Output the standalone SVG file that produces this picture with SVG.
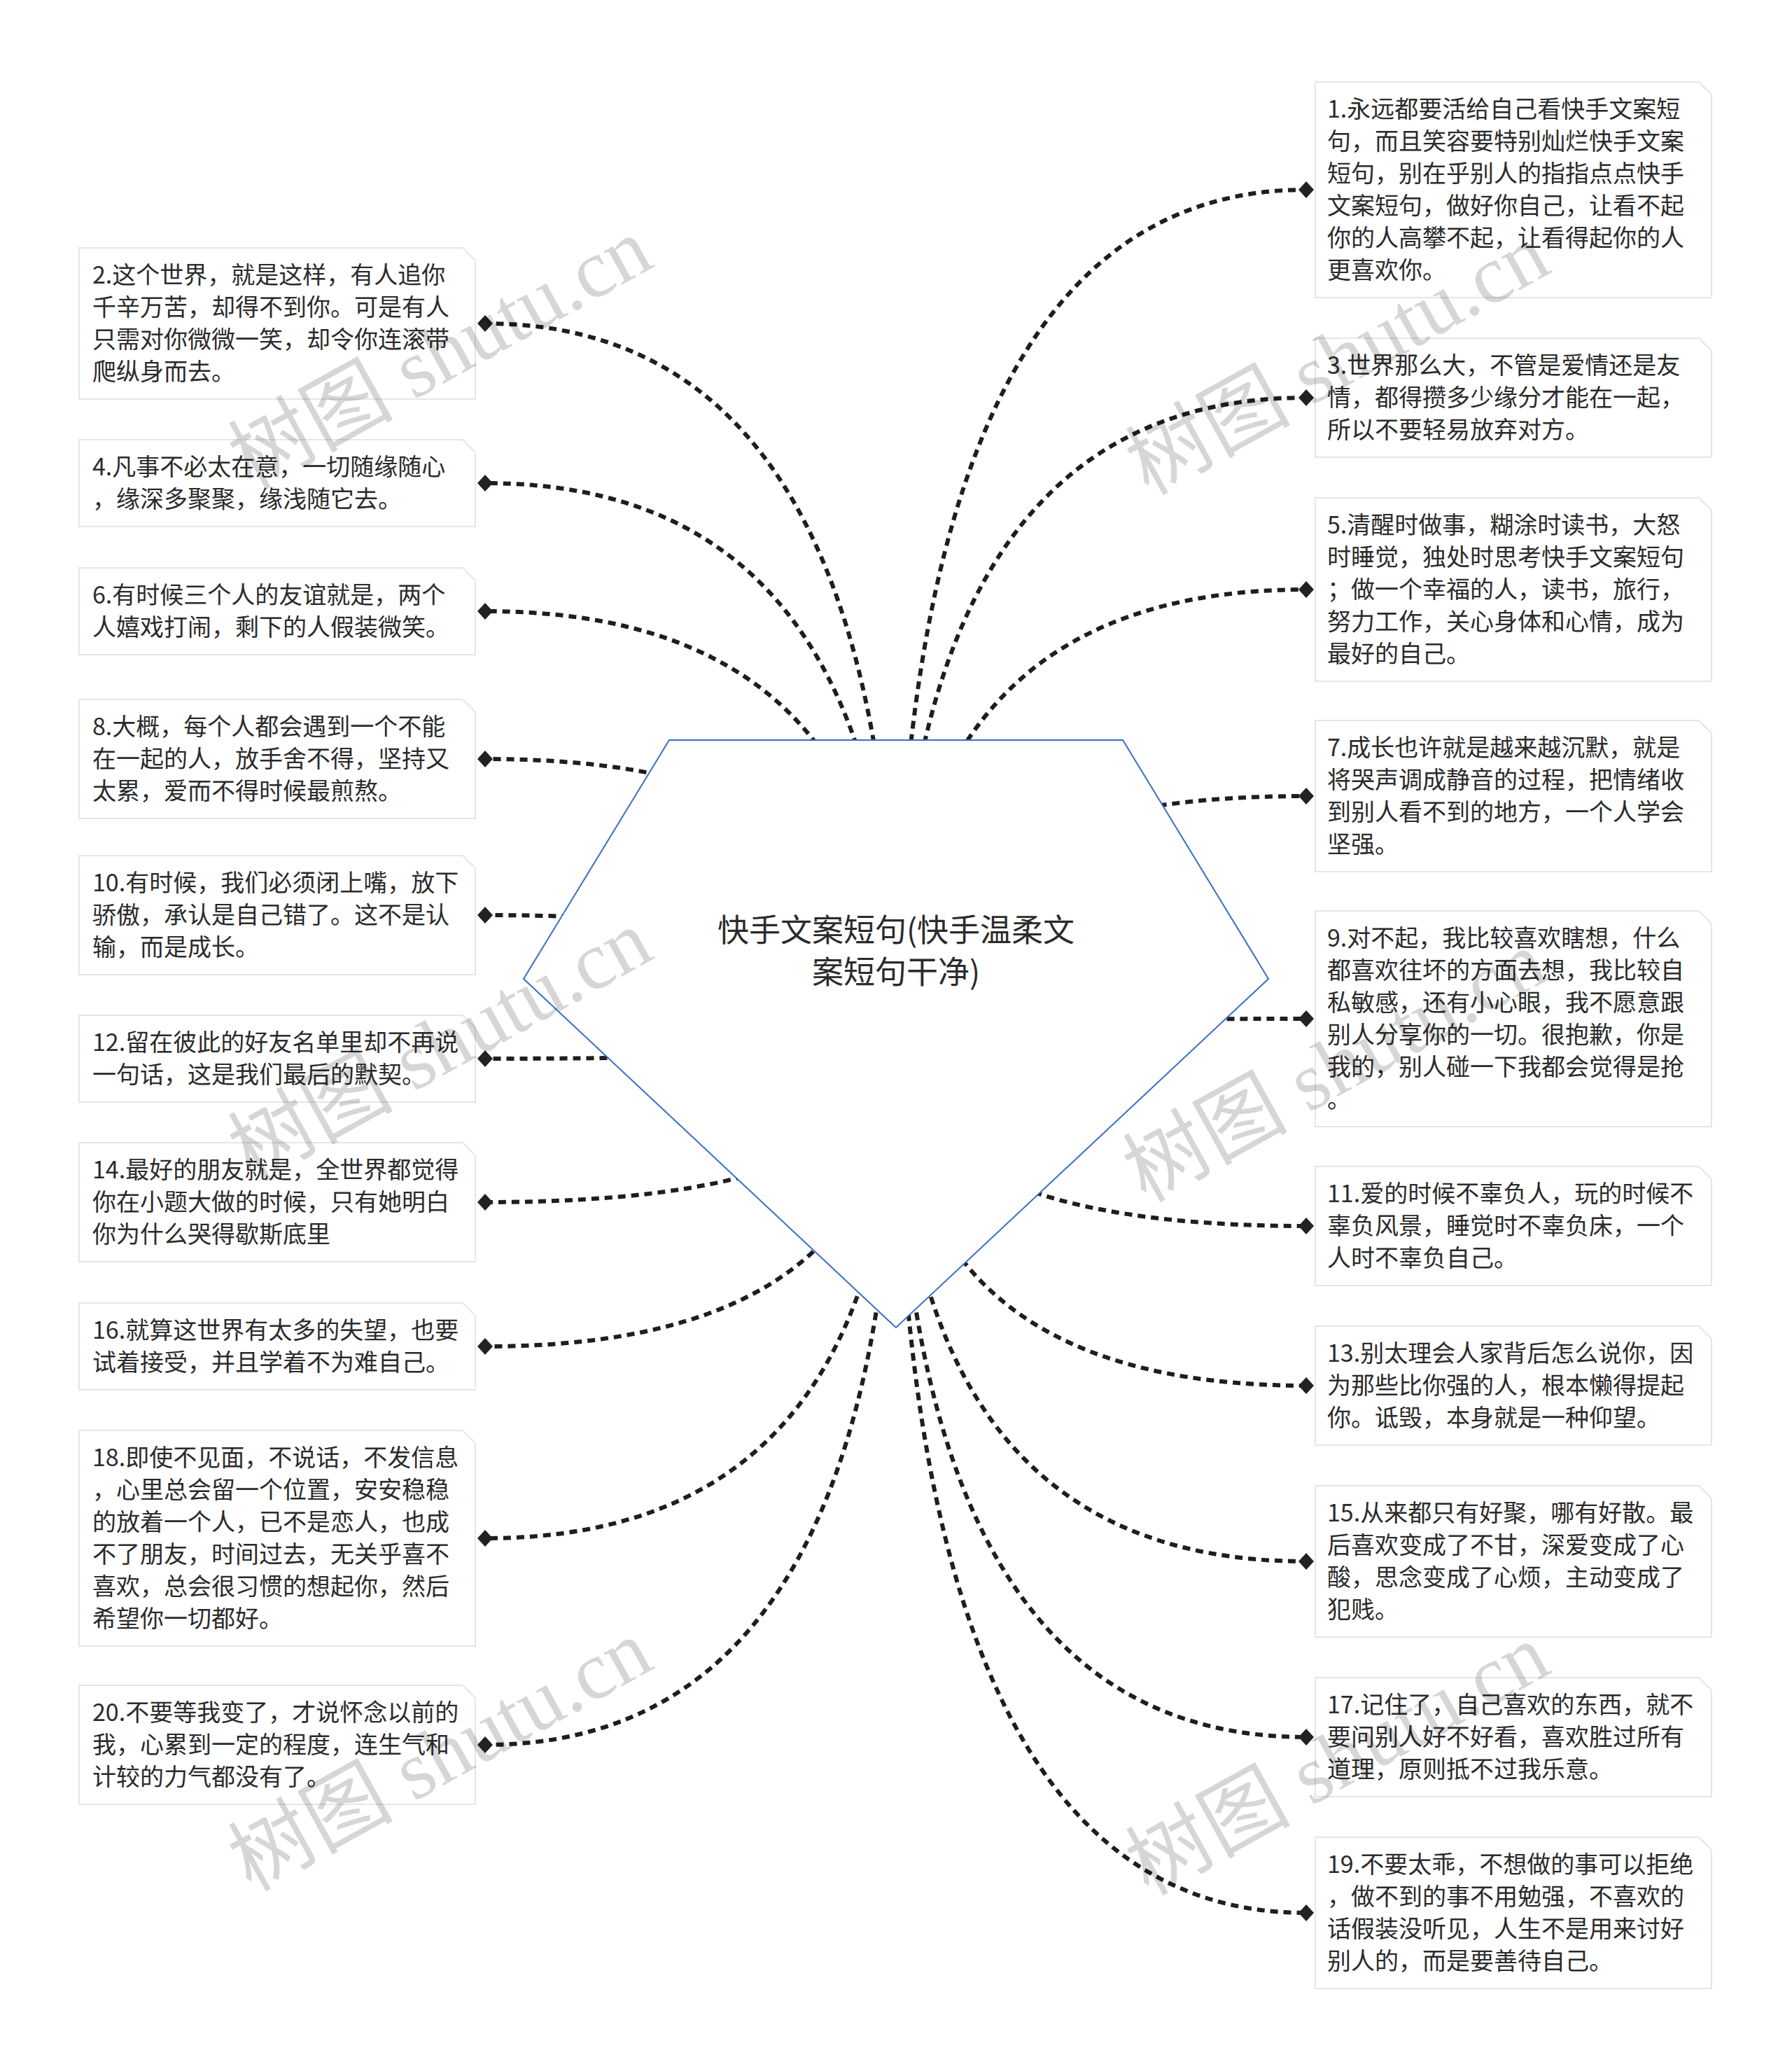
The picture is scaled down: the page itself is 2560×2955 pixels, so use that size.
<svg xmlns="http://www.w3.org/2000/svg" width="2560" height="2955" viewBox="0 0 2560 2955">
<style>
.bg{fill:#ffffff}
.box{fill:#ffffff;stroke:#e4e6e8;stroke-width:2}
.t{font-family:"Noto Sans CJK SC","Noto Sans",sans-serif;font-size:34px;fill:#2b2b2b}
.ct{font-family:"Noto Sans CJK SC","Noto Sans",sans-serif;font-size:45px;fill:#2b2b2b;text-anchor:middle}
.c{fill:none;stroke:#1e1e1e;stroke-width:6;stroke-dasharray:11 8;marker-end:url(#dm)}
.pent{fill:#ffffff;stroke:#3a6fc0;stroke-width:2}
.wm{font-family:"Liberation Serif","Noto Sans CJK SC",serif;font-size:118px;fill:#000000;fill-opacity:0.16}
</style>
<defs>
<marker id="dm" markerUnits="userSpaceOnUse" markerWidth="24" markerHeight="26" refX="12" refY="13" orient="auto">
<path d="M1 13L12 1L23 13L12 25Z" fill="#222222"/>
</marker>
</defs>
<rect class="bg" x="0" y="0" width="2560" height="2955"/>
<g id="connectors">
<path class="c" d="M1280 1477Q1280 462 693 462"/>
<path class="c" d="M1280 1477Q1280 690 693 690"/>
<path class="c" d="M1280 1477Q1280 873 693 873"/>
<path class="c" d="M1280 1477Q1280 1084 693 1084"/>
<path class="c" d="M1280 1477Q1280 1307 693 1307"/>
<path class="c" d="M1280 1477Q1280 1512 693 1512"/>
<path class="c" d="M1280 1477Q1280 1717 693 1717"/>
<path class="c" d="M1280 1477Q1280 1923 693 1923"/>
<path class="c" d="M1280 1477Q1280 2197 693 2197"/>
<path class="c" d="M1280 1477Q1280 2492 693 2492"/>
<path class="c" d="M1280 1477Q1280 271 1866 271"/>
<path class="c" d="M1280 1477Q1280 568 1866 568"/>
<path class="c" d="M1280 1477Q1280 842 1866 842"/>
<path class="c" d="M1280 1477Q1280 1137 1866 1137"/>
<path class="c" d="M1280 1477Q1280 1455 1866 1455"/>
<path class="c" d="M1280 1477Q1280 1751 1866 1751"/>
<path class="c" d="M1280 1477Q1280 1979 1866 1979"/>
<path class="c" d="M1280 1477Q1280 2230 1866 2230"/>
<path class="c" d="M1280 1477Q1280 2481 1866 2481"/>
<path class="c" d="M1280 1477Q1280 2732 1866 2732"/>
</g>
<g id="center">
<polygon class="pent" points="956,1057 1604,1057 1812,1398 1280,1896 748,1398"/>
<text class="ct" x="1280" y="1345">快手文案短句(快手温柔文</text>
<text class="ct" x="1280" y="1405">案短句干净)</text>
</g>
<g id="n1"><path class="box" d="M1879 117H2427L2445 135V425H1879Z"/>
<text class="t" x="1896" y="168"><tspan x="1896">1.永远都要活给自己看快手文案短</tspan><tspan x="1896" dy="46">句，而且笑容要特别灿烂快手文案</tspan><tspan x="1896" dy="46">短句，别在乎别人的指指点点快手</tspan><tspan x="1896" dy="46">文案短句，做好你自己，让看不起</tspan><tspan x="1896" dy="46">你的人高攀不起，让看得起你的人</tspan><tspan x="1896" dy="46">更喜欢你。</tspan></text></g>
<g id="n2"><path class="box" d="M113 354H661L679 372V570H113Z"/>
<text class="t" x="132" y="405"><tspan x="132">2.这个世界，就是这样，有人追你</tspan><tspan x="132" dy="46">千辛万苦，却得不到你。可是有人</tspan><tspan x="132" dy="46">只需对你微微一笑，却令你连滚带</tspan><tspan x="132" dy="46">爬纵身而去。</tspan></text></g>
<g id="n3"><path class="box" d="M1879 483H2427L2445 501V653H1879Z"/>
<text class="t" x="1896" y="534"><tspan x="1896">3.世界那么大，不管是爱情还是友</tspan><tspan x="1896" dy="46">情，都得攒多少缘分才能在一起，</tspan><tspan x="1896" dy="46">所以不要轻易放弃对方。</tspan></text></g>
<g id="n4"><path class="box" d="M113 628H661L679 646V752H113Z"/>
<text class="t" x="132" y="679"><tspan x="132">4.凡事不必太在意，一切随缘随心</tspan><tspan x="132" dy="46">，缘深多聚聚，缘浅随它去。</tspan></text></g>
<g id="n5"><path class="box" d="M1879 711H2427L2445 729V973H1879Z"/>
<text class="t" x="1896" y="762"><tspan x="1896">5.清醒时做事，糊涂时读书，大怒</tspan><tspan x="1896" dy="46">时睡觉，独处时思考快手文案短句</tspan><tspan x="1896" dy="46">；做一个幸福的人，读书，旅行，</tspan><tspan x="1896" dy="46">努力工作，关心身体和心情，成为</tspan><tspan x="1896" dy="46">最好的自己。</tspan></text></g>
<g id="n6"><path class="box" d="M113 811H661L679 829V935H113Z"/>
<text class="t" x="132" y="862"><tspan x="132">6.有时候三个人的友谊就是，两个</tspan><tspan x="132" dy="46">人嬉戏打闹，剩下的人假装微笑。</tspan></text></g>
<g id="n7"><path class="box" d="M1879 1029H2427L2445 1047V1245H1879Z"/>
<text class="t" x="1896" y="1080"><tspan x="1896">7.成长也许就是越来越沉默，就是</tspan><tspan x="1896" dy="46">将哭声调成静音的过程，把情绪收</tspan><tspan x="1896" dy="46">到别人看不到的地方，一个人学会</tspan><tspan x="1896" dy="46">坚强。</tspan></text></g>
<g id="n8"><path class="box" d="M113 999H661L679 1017V1169H113Z"/>
<text class="t" x="132" y="1050"><tspan x="132">8.大概，每个人都会遇到一个不能</tspan><tspan x="132" dy="46">在一起的人，放手舍不得，坚持又</tspan><tspan x="132" dy="46">太累，爱而不得时候最煎熬。</tspan></text></g>
<g id="n9"><path class="box" d="M1879 1301H2427L2445 1319V1609H1879Z"/>
<text class="t" x="1896" y="1352"><tspan x="1896">9.对不起，我比较喜欢瞎想，什么</tspan><tspan x="1896" dy="46">都喜欢往坏的方面去想，我比较自</tspan><tspan x="1896" dy="46">私敏感，还有小心眼，我不愿意跟</tspan><tspan x="1896" dy="46">别人分享你的一切。很抱歉，你是</tspan><tspan x="1896" dy="46">我的，别人碰一下我都会觉得是抢</tspan><tspan x="1896" dy="46">。</tspan></text></g>
<g id="n10"><path class="box" d="M113 1222H661L679 1240V1392H113Z"/>
<text class="t" x="132" y="1273"><tspan x="132">10.有时候，我们必须闭上嘴，放下</tspan><tspan x="132" dy="46">骄傲，承认是自己错了。这不是认</tspan><tspan x="132" dy="46">输，而是成长。</tspan></text></g>
<g id="n11"><path class="box" d="M1879 1666H2427L2445 1684V1836H1879Z"/>
<text class="t" x="1896" y="1717"><tspan x="1896">11.爱的时候不辜负人，玩的时候不</tspan><tspan x="1896" dy="46">辜负风景，睡觉时不辜负床，一个</tspan><tspan x="1896" dy="46">人时不辜负自己。</tspan></text></g>
<g id="n12"><path class="box" d="M113 1450H661L679 1468V1574H113Z"/>
<text class="t" x="132" y="1501"><tspan x="132">12.留在彼此的好友名单里却不再说</tspan><tspan x="132" dy="46">一句话，这是我们最后的默契。</tspan></text></g>
<g id="n13"><path class="box" d="M1879 1894H2427L2445 1912V2064H1879Z"/>
<text class="t" x="1896" y="1945"><tspan x="1896">13.别太理会人家背后怎么说你，因</tspan><tspan x="1896" dy="46">为那些比你强的人，根本懒得提起</tspan><tspan x="1896" dy="46">你。诋毁，本身就是一种仰望。</tspan></text></g>
<g id="n14"><path class="box" d="M113 1632H661L679 1650V1802H113Z"/>
<text class="t" x="132" y="1683"><tspan x="132">14.最好的朋友就是，全世界都觉得</tspan><tspan x="132" dy="46">你在小题大做的时候，只有她明白</tspan><tspan x="132" dy="46">你为什么哭得歇斯底里</tspan></text></g>
<g id="n15"><path class="box" d="M1879 2122H2427L2445 2140V2338H1879Z"/>
<text class="t" x="1896" y="2173"><tspan x="1896">15.从来都只有好聚，哪有好散。最</tspan><tspan x="1896" dy="46">后喜欢变成了不甘，深爱变成了心</tspan><tspan x="1896" dy="46">酸，思念变成了心烦，主动变成了</tspan><tspan x="1896" dy="46">犯贱。</tspan></text></g>
<g id="n16"><path class="box" d="M113 1861H661L679 1879V1985H113Z"/>
<text class="t" x="132" y="1912"><tspan x="132">16.就算这世界有太多的失望，也要</tspan><tspan x="132" dy="46">试着接受，并且学着不为难自己。</tspan></text></g>
<g id="n17"><path class="box" d="M1879 2396H2427L2445 2414V2566H1879Z"/>
<text class="t" x="1896" y="2447"><tspan x="1896">17.记住了，自己喜欢的东西，就不</tspan><tspan x="1896" dy="46">要问别人好不好看，喜欢胜过所有</tspan><tspan x="1896" dy="46">道理，原则抵不过我乐意。</tspan></text></g>
<g id="n18"><path class="box" d="M113 2043H661L679 2061V2351H113Z"/>
<text class="t" x="132" y="2094"><tspan x="132">18.即使不见面，不说话，不发信息</tspan><tspan x="132" dy="46">，心里总会留一个位置，安安稳稳</tspan><tspan x="132" dy="46">的放着一个人，已不是恋人，也成</tspan><tspan x="132" dy="46">不了朋友，时间过去，无关乎喜不</tspan><tspan x="132" dy="46">喜欢，总会很习惯的想起你，然后</tspan><tspan x="132" dy="46">希望你一切都好。</tspan></text></g>
<g id="n19"><path class="box" d="M1879 2624H2427L2445 2642V2840H1879Z"/>
<text class="t" x="1896" y="2675"><tspan x="1896">19.不要太乖，不想做的事可以拒绝</tspan><tspan x="1896" dy="46">，做不到的事不用勉强，不喜欢的</tspan><tspan x="1896" dy="46">话假装没听见，人生不是用来讨好</tspan><tspan x="1896" dy="46">别人的，而是要善待自己。</tspan></text></g>
<g id="n20"><path class="box" d="M113 2407H661L679 2425V2577H113Z"/>
<text class="t" x="132" y="2458"><tspan x="132">20.不要等我变了，才说怀念以前的</tspan><tspan x="132" dy="46">我，心累到一定的程度，连生气和</tspan><tspan x="132" dy="46">计较的力气都没有了。</tspan></text></g>
<g id="watermarks">
<text class="wm" text-anchor="middle" transform="translate(648 540) rotate(-29)">树图 shutu.cn</text>
<text class="wm" text-anchor="middle" transform="translate(648 1528) rotate(-29)">树图 shutu.cn</text>
<text class="wm" text-anchor="middle" transform="translate(648 2542) rotate(-29)">树图 shutu.cn</text>
<text class="wm" text-anchor="middle" transform="translate(1930 548) rotate(-29)">树图 shutu.cn</text>
<text class="wm" text-anchor="middle" transform="translate(1926 1558) rotate(-29)">树图 shutu.cn</text>
<text class="wm" text-anchor="middle" transform="translate(1930 2548) rotate(-29)">树图 shutu.cn</text>
</g>
</svg>
